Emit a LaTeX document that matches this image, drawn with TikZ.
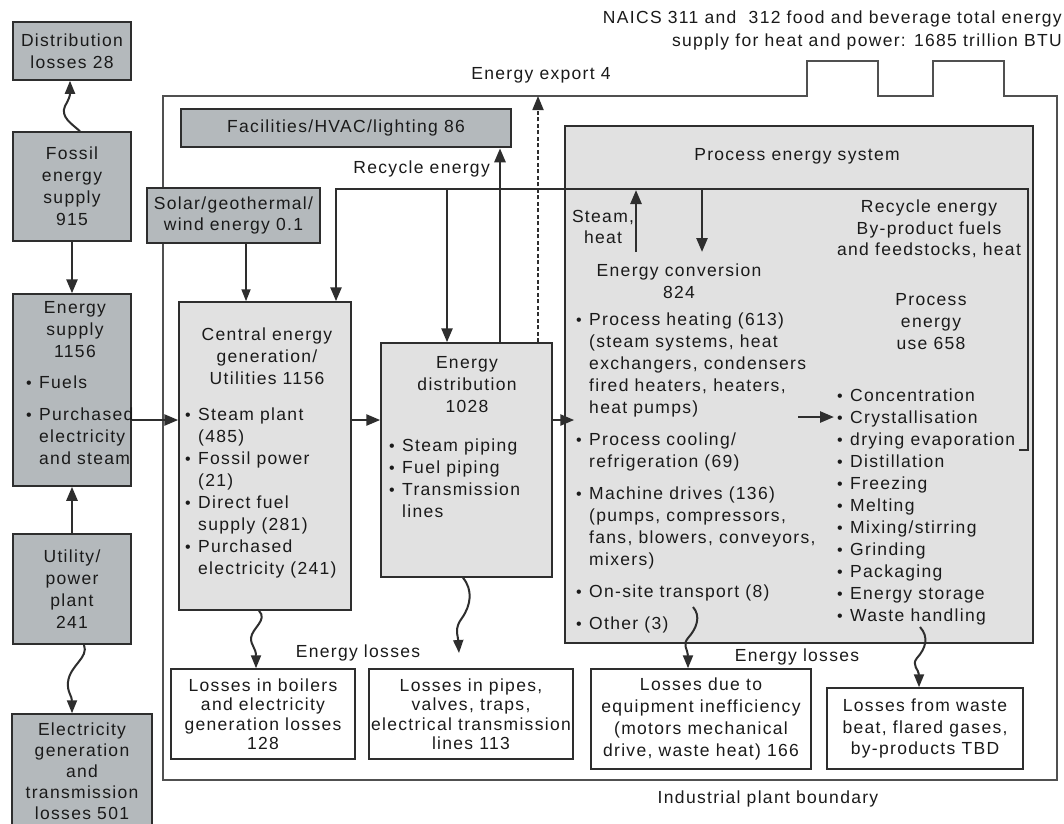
\documentclass[tikz,border=0pt]{standalone}
\usepackage{fontspec}
\setmainfont[LetterSpace=7.5]{Liberation Sans}
\usetikzlibrary{arrows.meta}
\definecolor{darkg}{HTML}{B4B9BC}
\definecolor{lightg}{HTML}{E1E1E1}
\definecolor{linec}{HTML}{2E2E2E}
\definecolor{txtc}{HTML}{1A1A1A}
\definecolor{bndc}{HTML}{505050}
\newcommand{\bul}{\makebox[13pt][l]{\raisebox{0.05ex}{\fontsize{16}{16}\selectfont •}}}
\newcommand{\ind}{\hspace*{13pt}}
\tikzset{
  dbox/.style={draw=linec, line width=1.5pt, fill=darkg, align=center, inner sep=0pt},
  lbox/.style={draw=linec, line width=1.5pt, fill=lightg, inner sep=0pt},
  wbox/.style={draw=linec, line width=1.5pt, fill=white, align=center, inner sep=0pt},
  arr/.style={draw=linec, line width=2.6pt, -{Triangle[length=14pt,width=11pt]}},
  thinarr/.style={draw=linec, line width=1.7pt, -{Triangle[length=12pt,width=9pt]}},
  wav/.style={draw=linec, line width=2pt, -{Triangle[length=13pt,width=10pt]}},
  txt/.style={align=center, inner sep=0pt},
  lst/.style={align=left, inner sep=0pt, anchor=north west},
}
\begin{document}
\begin{tikzpicture}[x=1pt,y=-1pt,font=\fontsize{17.5}{22}\selectfont,text=txtc]
\useasboundingbox (0,0) rectangle (1064,823);
\fill[white] (0,0) rectangle (1064,823);

% industrial plant boundary
\draw[draw=bndc, line width=1.5pt] (163,96) -- (807,96) -- (807,61) -- (878,61) -- (878,96)
  -- (933,96) -- (933,61) -- (1004,61) -- (1004,96) -- (1057,96) -- (1057,780) -- (163,780) -- cycle;

% left column
\node[dbox, minimum width=118pt, minimum height=58pt] (distloss) at (72,51) {Distribution\\losses 28};
\node[dbox, minimum width=118pt, minimum height=109pt] (fossil) at (72,186.5) {Fossil\\energy\\supply\\915};
\node[dbox, minimum width=118pt, minimum height=192pt] (esupply) at (72,390) {};
\node[txt, anchor=north] (estitle) at (75,301) {Energy\\supply\\1156};
\node[lst] (eslist) at (26,376) {\bul Fuels\\[10pt]\bul Purchased\\\ind electricity\\\ind and steam};
\node[dbox, minimum width=118pt, minimum height=110pt] (utility) at (72,589) {Utility/\\power\\plant\\241};
\node[dbox, minimum width=140pt, minimum height=118pt] (elecloss) at (82,773) {};
\node[txt, anchor=north] (eltxt) at (82,723) {Electricity\\[-1pt]generation\\[-1pt]and\\[-1pt]transmission\\[-1pt]losses 501};

% top items
\node[dbox, minimum width=173pt, minimum height=55pt] (solar) at (233.5,215.5) {Solar/geothermal/\\[-1pt]wind energy 0.1};
\node[dbox, line width=2.6pt, minimum width=330pt, minimum height=38pt] (fac) at (346,128) {Facilities/HVAC/lighting 86};

% central generation
\node[lbox, minimum width=172pt, minimum height=308pt] (central) at (265,456) {};
\node[txt, anchor=north] (ctitle) at (267,328) {Central energy\\generation/\\Utilities 1156};
\node[lst] (clist) at (185,408) {\bul Steam plant\\\ind (485)\\\bul Fossil power\\\ind (21)\\\bul Direct fuel\\\ind supply (281)\\\bul Purchased\\\ind electricity (241)};

% distribution
\node[lbox, minimum width=171pt, minimum height=234pt] (dist) at (466.5,460) {};
\node[txt, anchor=north] (dtitle) at (467,356) {Energy\\distribution\\1028};
\node[lst] (dlist) at (389,439) {\bul Steam piping\\\bul Fuel piping\\\bul Transmission\\\ind lines};

% process energy system
\node[lbox, minimum width=468pt, minimum height=517pt] (process) at (799,384.5) {};
\node[txt] (ptitle) at (797,156) {Process energy system};
\node[txt, anchor=north] (steam) at (603,210) {Steam,\\[-1pt]heat};
\node[txt, anchor=north] (econv) at (679,264) {Energy conversion\\824};
\node[txt, anchor=north] (precyc) at (929,200) {Recycle energy\\[-0.5pt]By-product fuels\\[-0.5pt]and feedstocks, heat};
\node[txt, anchor=north] (puse) at (931,293) {Process\\energy\\use 658};
\node[lst] (plist) at (576,313) {\bul Process heating (613)\\\ind (steam systems, heat\\\ind exchangers, condensers\\\ind fired heaters, heaters,\\\ind heat pumps)\\[10pt]\bul Process cooling/\\\ind refrigeration (69)\\[10pt]\bul Machine drives (136)\\\ind (pumps, compressors,\\\ind fans, blowers, conveyors,\\\ind mixers)\\[10pt]\bul On-site transport (8)\\[10pt]\bul Other (3)};
\node[lst] (ulist) at (837,389) {\bul Concentration\\\bul Crystallisation\\\bul drying evaporation\\\bul Distillation\\\bul Freezing\\\bul Melting\\\bul Mixing/stirring\\\bul Grinding\\\bul Packaging\\\bul Energy storage\\\bul Waste handling};

% loss boxes
\node[wbox, minimum width=184pt, minimum height=90pt] (box1) at (263,714) {Losses in boilers\\[-2.5pt]and electricity\\[-2.5pt]generation losses\\[-2.5pt]128};
\node[wbox, minimum width=204pt, minimum height=90pt] (box2) at (471,714) {Losses in pipes,\\[-2.5pt]valves, traps,\\[-2.5pt]electrical transmission\\[-2.5pt]lines 113};
\node[wbox, minimum width=220pt, minimum height=100pt] (box3) at (701,719) {Losses due to\\equipment inefficiency\\(motors mechanical\\drive, waste heat) 166};
\node[wbox, minimum width=196pt, minimum height=81pt] (box4) at (925,728.5) {Losses from waste\\[-0.5pt]beat, flared gases,\\[-0.5pt]by-products TBD};

% labels
\node[txt] (export) at (541,75) {Energy export 4};
\node[txt, anchor=north east, align=right] (naics) at (1062,11) {NAICS 311 and\ \ 312 food and beverage total energy\\[1pt]supply for heat and power: 1685 trillion BTU};
\node[txt] (ipb) at (768,799) {Industrial plant boundary};
\node[txt, anchor=base east] (recyc) at (490,173) {Recycle energy};
\node[txt] (eloss1) at (358,653) {Energy losses};
\node[txt] (eloss2) at (797,657) {Energy losses};

% coordinates
\coordinate (flow) at (0,420);
\coordinate (r1) at (336,189);
\coordinate (r2) at (447,189);
\coordinate (r3) at (702,189);
\coordinate (r3e) at (702,252);
\coordinate (sh0) at (636,252);
\coordinate (sh1) at (636,190);
\coordinate (rtop) at (1028,189);
\coordinate (rbot) at (1028,450);
\coordinate (rend) at (1019,450);
\coordinate (expt) at (538,96);
\coordinate (facx) at (500,0);
\coordinate (dl) at (459,653);
\coordinate (ow) at (693,607);
\coordinate (wh) at (920,627);
\coordinate (cry0) at (798,417);
\coordinate (cry1) at (834,417);

% straight arrows
\draw[arr] (fossil) -- (esupply);
\draw[arr] (utility) -- (esupply);
\draw[arr] (esupply.east |- flow) -- (central.west |- flow);
\draw[arr] (central.east |- flow) -- (dist.west |- flow);
\draw[arr] (dist.east |- flow) -- ([xshift=10pt]process.west |- flow);
\draw[arr] (cry0) -- (cry1);
\draw[thinarr] ([xshift=12.5pt]solar.south) -- ([xshift=12.5pt]solar.south |- central.north);
\draw[arr] (facx |- dist.north) -- (facx |- fac.south);
\draw[arr, dashed, dash pattern=on 4pt off 2.5pt, line width=1.8pt] (expt |- dist.north) -- (expt);

% recycle loop
\draw[arr] (rend) -- (rbot) -- (rtop) -- (r1) -- (r1 |- central.north);
\draw[arr] (r2) -- (r2 |- dist.north);
\draw[arr] (r3) -- (r3e);
\draw[arr] (sh0) -- (sh1);

% wavy loss arrows
\draw[wav] ([xshift=8pt]fossil.north) .. controls (72,124) and (60,117) .. (65,106) .. controls (69,99) and (70,96) .. ([xshift=-2pt]distloss.south);
\draw[wav] ([xshift=12pt]utility.south) .. controls (89,658) and (70,665) .. (68,682) .. controls (67,692) and (72,696) .. ([xshift=-10pt]elecloss.north);
\draw[wav] ([xshift=-6pt]central.south) .. controls (268,620) and (252,628) .. (251,638) .. controls (251,646) and (256,648) .. ([xshift=-7pt]box1.north);
\draw[wav] ([xshift=-3.5pt]dist.south) .. controls (473,590) and (471,605) .. (462,618) .. controls (454,628) and (458,636) .. (dl);
\draw[wav] (ow) .. controls (701,616) and (697,628) .. (688,638) .. controls (682,645) and (688,650) .. ([xshift=-13pt]box3.north);
\draw[wav] (wh) .. controls (929,637) and (926,648) .. (917,658) .. controls (911,665) and (919,670) .. ([xshift=-6pt]box4.north);
\end{tikzpicture}
\end{document}
